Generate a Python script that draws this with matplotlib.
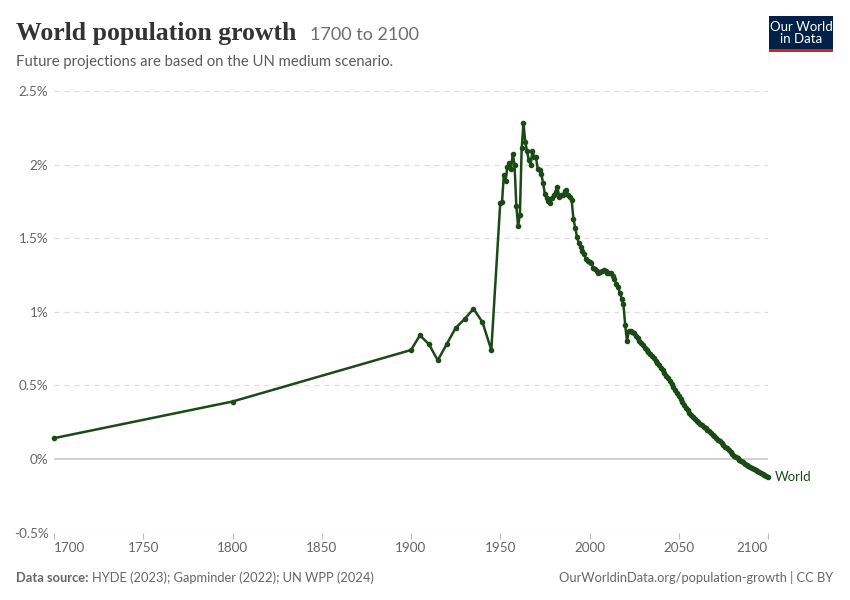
import matplotlib
matplotlib.use("Agg")
import matplotlib.pyplot as plt
from matplotlib.patches import Rectangle

# early, sparse observations (annual growth rate, %)
early_years = [1700, 1800, 1900, 1905, 1910, 1915, 1920, 1925, 1930, 1935, 1940, 1945]
early_rate = [0.141, 0.39, 0.74, 0.84, 0.78, 0.67, 0.78, 0.89, 0.95, 1.02, 0.93, 0.74]

# annual estimates 1950-2022
annual_years = list(range(1950, 2023))
annual_rate = [
    1.74, 1.745, 1.93, 1.89, 1.985, 2.01, 1.97, 2.07, 2.00, 1.72,
    1.58, 1.66, 2.11, 2.28, 2.155, 2.09, 2.03, 2.00, 2.09, 2.05,
    2.05, 1.97, 1.965, 1.935, 1.875, 1.80, 1.77, 1.75, 1.74, 1.77,
    1.79, 1.815, 1.85, 1.78, 1.79, 1.79, 1.82, 1.83, 1.79, 1.78,
    1.76, 1.63, 1.57, 1.51, 1.465, 1.44, 1.415, 1.39, 1.36, 1.345,
    1.34, 1.33, 1.30, 1.29, 1.275, 1.265, 1.27, 1.278, 1.282, 1.276,
    1.265, 1.26, 1.26, 1.24, 1.22, 1.19, 1.165, 1.13, 1.09, 1.05,
    0.91, 0.80, 0.87,
]

# UN medium scenario projection 2023-2100
proj_years = list(range(2023, 2101))
proj_rate = [
    0.870, 0.862, 0.853, 0.838, 0.820, 0.803, 0.787, 0.771, 0.756, 0.741,
    0.727, 0.713, 0.699, 0.684, 0.668, 0.652, 0.636, 0.619, 0.602, 0.584,
    0.566, 0.547, 0.528, 0.508, 0.488, 0.468, 0.448, 0.428, 0.408, 0.388,
    0.368, 0.349, 0.331, 0.314, 0.298, 0.284, 0.271, 0.259, 0.248, 0.238,
    0.228, 0.218, 0.208, 0.198, 0.187, 0.176, 0.165, 0.154, 0.143, 0.131,
    0.119, 0.107, 0.095, 0.083, 0.071, 0.058, 0.046, 0.034, 0.023, 0.013,
    0.003, -0.006, -0.015, -0.024, -0.032, -0.040, -0.048, -0.056, -0.063, -0.070,
    -0.077, -0.084, -0.091, -0.098, -0.105, -0.112, -0.119, -0.126,
]

x_ticks = [1700, 1750, 1800, 1850, 1900, 1950, 2000, 2050, 2100]
y_ticks = [-0.5, 0, 0.5, 1, 1.5, 2, 2.5]
y_labels = ["-0.5%", "0%", "0.5%", "1%", "1.5%", "2%", "2.5%"]

W, H = 850, 600
green = "#1c4a17"
grey_txt = "#666666"

plt.rcParams["font.family"] = ["Lato", "DejaVu Sans"]

fig = plt.figure(figsize=(W / 100, H / 100), dpi=100)


def fx(px):
    return px / W


def fy(py):
    return 1 - py / H


# plot area in pixels: x 54..768, y 91..532.5
ax = fig.add_axes([fx(54), fy(532.5), fx(768) - fx(54), fy(91) - fy(532.5)])

years = early_years + annual_years + proj_years
rate = early_rate + annual_rate + proj_rate
ax.plot(years, rate, color=green, lw=1.8, marker="o", ms=3, zorder=3,
        solid_joinstyle="round", clip_on=False)

ax.set_xlim(1700, 2100)
ax.set_ylim(-0.5, 2.5)

for v in y_ticks:
    if v == 0:
        ax.axhline(v, color="#c8c8c8", lw=1.2, zorder=1)
    else:
        ax.axhline(v, color="#dddddd", lw=0.9, ls=(0, (4, 4)), zorder=1)

ax.set_yticks(y_ticks)
ax.set_yticklabels(y_labels)
ax.set_xticks(x_ticks)
ax.set_xticklabels([str(t) for t in x_ticks])
ax.tick_params(axis="y", length=0, pad=4, labelsize=9.7, labelcolor=grey_txt)
ax.tick_params(axis="x", length=4, width=0.8, color="#bbbbbb", pad=3,
               labelsize=9.7, labelcolor=grey_txt)
xl = ax.get_xticklabels()
xl[0].set_ha("left")
xl[-1].set_ha("right")
for s in ax.spines.values():
    s.set_visible(False)
ax.set_facecolor("none")

ax.annotate("World", xy=(2100, proj_rate[-1]), xytext=(5, 0),
            textcoords="offset points", color=green, fontsize=9.5,
            va="center", ha="left", annotation_clip=False)

# header
fig.text(fx(16), fy(40), "World population growth", family="Liberation Serif",
         fontsize=18.5, fontweight="bold", color="#333333", va="baseline", ha="left")
fig.text(fx(310), fy(40), "1700 to 2100", fontsize=13, color="#6e6e6e",
         va="baseline", ha="left")
fig.text(fx(16), fy(66), "Future projections are based on the UN medium scenario.",
         fontsize=10.7, color="#5b5b5b", va="baseline", ha="left")

# logo
fig.patches.append(Rectangle((fx(769), fy(52)), fx(833) - fx(769), fy(16) - fy(52),
                             transform=fig.transFigure, facecolor="#002147",
                             edgecolor="none"))
fig.patches.append(Rectangle((fx(769), fy(52)), fx(833) - fx(769), 3 / H,
                             transform=fig.transFigure, facecolor="#ce261e",
                             edgecolor="none"))
fig.text(fx(801), fy(33), "Our World\nin Data", color="white", fontsize=9.5,
         ha="center", va="center", linespacing=1.0)

# footer
fig.text(fx(16), fy(582), "Data source:", fontsize=9.3, color=grey_txt,
         fontweight="bold", va="baseline", ha="left")
fig.text(fx(92), fy(582), "HYDE (2023); Gapminder (2022); UN WPP (2024)",
         fontsize=9.3, color=grey_txt, va="baseline", ha="left")
fig.text(fx(833), fy(582), "OurWorldinData.org/population-growth | CC BY",
         fontsize=9.3, color=grey_txt, va="baseline", ha="right")

fig.savefig("out.png", dpi=100, facecolor="white")
